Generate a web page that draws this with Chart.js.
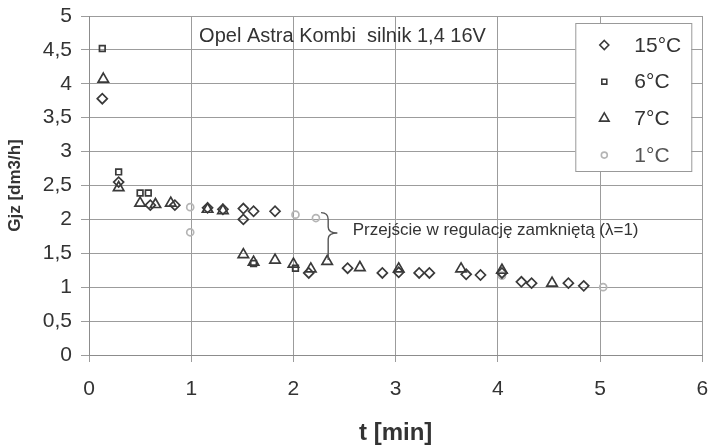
<!DOCTYPE html>
<html><head><meta charset="utf-8">
<script src="https://cdn.jsdelivr.net/npm/chart.js@4.4.1/dist/chart.umd.min.js"></script>
<style>html,body{margin:0;padding:0;background:#fff}#wrap{width:710px;height:448px}</style>
</head><body><div id="wrap"><canvas id="c" width="710" height="448"></canvas></div>
<script>
// ---- data ----
const seriesNames = ['15°C', '6°C', '7°C', '1°C'];
const t15 = [0.13, 0.29, 0.60, 0.84, 1.16, 1.31, 1.51, 1.51, 1.61, 1.82, 2.15, 2.53, 2.87, 3.03, 3.23, 3.33, 3.69, 3.83, 4.04, 4.23, 4.33, 4.69, 4.84];
const g15 = [3.78, 2.55, 2.21, 2.21, 2.17, 2.15, 2.16, 2.00, 2.12, 2.12, 1.21, 1.28, 1.21, 1.22, 1.21, 1.21, 1.19, 1.18, 1.21, 1.08, 1.06, 1.06, 1.02];
const t6 = [0.13, 0.29, 0.50, 0.58, 1.61, 2.02];
const g6 = [4.52, 2.70, 2.39, 2.39, 1.35, 1.28];
const t7 = [0.14, 0.29, 0.50, 0.65, 0.80, 1.16, 1.31, 1.51, 1.61, 1.82, 2.00, 2.17, 2.33, 2.65, 3.03, 3.64, 4.04, 4.53];
const g7 = [4.07, 2.47, 2.24, 2.22, 2.24, 2.15, 2.13, 1.48, 1.37, 1.40, 1.34, 1.27, 1.38, 1.29, 1.27, 1.27, 1.25, 1.06];
const t1 = [0.99, 0.99, 2.02, 2.22, 4.04, 5.03];
const g1 = [2.18, 1.81, 2.07, 2.02, 1.17, 1.00];
const xTickLabels = ['0', '1', '2', '3', '4', '5', '6'];
const yTickLabels = ['0', '0,5', '1', '1,5', '2', '2,5', '3', '3,5', '4', '4,5', '5'];
const chartTitle = 'Opel Astra Kombi  silnik 1,4 16V';
const noteText = 'Przejście w regulację zamkniętą (λ=1)';
const xTitle = 't [min]';
const yTitle = 'Gjz [dm3/h]';

const FONT = '"Liberation Sans", Arial, sans-serif';
const INK = '#333333';
const MARK = '#3a3a3a';
const LIGHT = '#b5b5b5';
const styles = [
  {pointStyle: 'rectRot', radius: 5, color: MARK, lr: 4.5},
  {pointStyle: 'rect', radius: 4, color: MARK, lr: 3.5},
  {pointStyle: 'triangle', radius: 6, color: MARK, lr: 5.5},
  {pointStyle: 'circle', radius: 3.5, color: LIGHT, lr: 3}
];
const pairs = [[t15, g15], [t6, g6], [t7, g7], [t1, g1]];
const datasets = pairs.map((p, k) => ({
  label: seriesNames[k],
  data: p[0].map((t, i) => ({x: t, y: p[1][i]})),
  pointStyle: styles[k].pointStyle,
  pointRadius: styles[k].radius,
  pointBorderColor: styles[k].color,
  pointBackgroundColor: 'rgba(255,255,255,0)',
  pointBorderWidth: 1.7,
  showLine: false
}));

function drawMarker(ctx, st, x, y, r) {
  ctx.save();
  ctx.strokeStyle = st.color; ctx.lineWidth = 1.6; ctx.beginPath();
  if (st.pointStyle === 'rectRot') {
    ctx.moveTo(x, y - r); ctx.lineTo(x + r, y); ctx.lineTo(x, y + r); ctx.lineTo(x - r, y); ctx.closePath();
  } else if (st.pointStyle === 'rect') {
    const s = r * Math.SQRT1_2; ctx.rect(x - s, y - s, 2 * s, 2 * s);
  } else if (st.pointStyle === 'triangle') {
    ctx.moveTo(x, y - r); ctx.lineTo(x + r * 0.866, y + r * 0.5); ctx.lineTo(x - r * 0.866, y + r * 0.5); ctx.closePath();
  } else {
    ctx.arc(x, y, r, 0, Math.PI * 2);
  }
  ctx.stroke(); ctx.restore();
}

const overlay = {
  id: 'overlay',
  afterDraw(chart) {
    const ctx = chart.ctx, xs = chart.scales.x, ys = chart.scales.y, ca = chart.chartArea;
    ctx.save();
    // title inside plot
    ctx.fillStyle = INK; ctx.textBaseline = 'middle'; ctx.textAlign = 'center';
    ctx.font = '20px ' + FONT;
    ctx.fillText(chartTitle, xs.getPixelForValue(2.48), ys.getPixelForValue(4.7));
    // annotation text
    ctx.textAlign = 'left'; ctx.font = '17px ' + FONT;
    ctx.fillText(noteText, xs.getPixelForValue(2.58), ys.getPixelForValue(1.84));
    // brace
    const bx = xs.getPixelForValue(2.34), bl = xs.getPixelForValue(2.27), br = xs.getPixelForValue(2.43);
    const yT = ys.getPixelForValue(2.10), yM = ys.getPixelForValue(1.80), yB = ys.getPixelForValue(1.40);
    ctx.strokeStyle = '#555'; ctx.lineWidth = 1.4; ctx.beginPath();
    ctx.moveTo(bl, yT); ctx.quadraticCurveTo(bx, yT, bx, yT + 7);
    ctx.lineTo(bx, yM - 6); ctx.quadraticCurveTo(bx, yM, br, yM);
    ctx.quadraticCurveTo(bx, yM, bx, yM + 6);
    ctx.lineTo(bx, yB);
    ctx.stroke();
    // legend box
    const lx = ca.right - 127, ly = ca.top + 7, lw = 116, lh = 148;
    ctx.fillStyle = '#fff'; ctx.fillRect(lx, ly, lw, lh);
    ctx.strokeStyle = '#999'; ctx.lineWidth = 1; ctx.strokeRect(lx + 0.5, ly + 0.5, lw, lh);
    ctx.font = '21px ' + FONT; ctx.textAlign = 'left'; ctx.textBaseline = 'middle';
    seriesNames.forEach((n, k) => {
      const yy = ly + 22 + k * 36.7;
      drawMarker(ctx, styles[k], lx + 29, yy, styles[k].lr);
      ctx.fillStyle = k === 3 ? '#555' : INK;
      ctx.fillText(n, lx + 59, yy + 1);
    });
    ctx.restore();
  }
};

new Chart(document.getElementById('c'), {
  type: 'scatter',
  data: {datasets},
  options: {
    responsive: false, animation: false, devicePixelRatio: 1,
    layout: {padding: {top: 16, right: 7, left: 0, bottom: 0}},
    plugins: {legend: {display: false}, tooltip: {enabled: false}},
    scales: {
      x: {
        type: 'linear', min: 0, max: 6,
        ticks: {stepSize: 1, color: INK, font: {family: FONT, size: 21}, padding: 15,
          callback: (v, i) => xTickLabels[i]},
        grid: {color: '#9c9c9c', lineWidth: 1, tickLength: 7, tickColor: '#9c9c9c'},
        border: {color: '#8c8c8c'},
        title: {display: true, text: xTitle, color: INK, font: {family: FONT, size: 24, weight: 'bold'}, padding: {top: 0, bottom: 0}},
        afterFit: s => { s.height = 93; s.paddingLeft = 0; s.paddingRight = 0; }
      },
      y: {
        min: 0, max: 5,
        ticks: {stepSize: 0.5, color: INK, font: {family: FONT, size: 21}, padding: 9,
          callback: (v, i) => yTickLabels[i]},
        grid: {color: '#9c9c9c', lineWidth: 1, tickLength: 8, tickColor: '#9c9c9c'},
        border: {color: '#8c8c8c'},
        title: {display: true, text: yTitle, color: INK, font: {family: FONT, size: 17, weight: 'bold'}, padding: {top: 5, bottom: 0}},
        afterFit: s => { s.width = 89; s.paddingTop = 0; s.paddingBottom = 0; }
      }
    }
  },
  plugins: [overlay]
});
</script></body></html>
